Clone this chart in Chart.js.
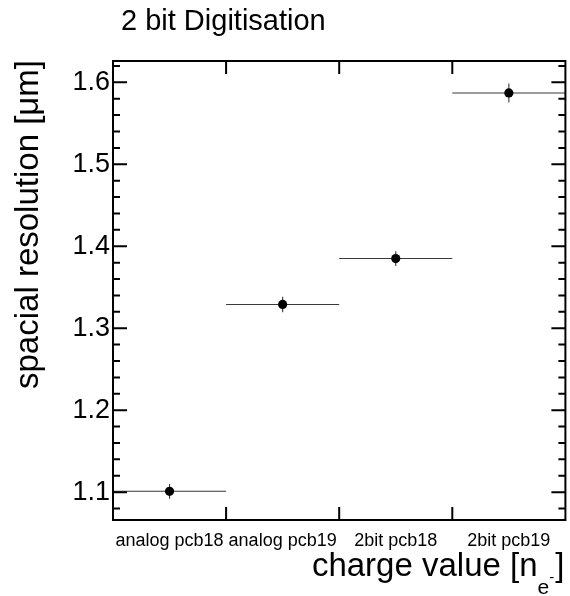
<!DOCTYPE html>
<html>
<head>
<meta charset="utf-8">
<script src="https://cdn.jsdelivr.net/npm/chart.js@4/dist/chart.umd.min.js"></script>
<style>
  html, body { margin: 0; padding: 0; background: #fff; }
  #plot { display: block; }
</style>
</head>
<body>
<canvas id="plot" width="570" height="596"></canvas>
<script>
// Measured spatial resolution per configuration, with its uncertainty
const categories = ['analog pcb18', 'analog pcb19', '2bit pcb18', '2bit pcb19'];
const resolution = [1.101, 1.329, 1.385, 1.587];
const resolutionErr = [0.009, 0.0095, 0.009, 0.0115];
const yTickValues = [1.1, 1.2, 1.3, 1.4, 1.5, 1.6];
const yTickLabels = ['1.1', '1.2', '1.3', '1.4', '1.5', '1.6'];

const FONT = "'Liberation Sans', Arial, Helvetica, sans-serif";
const Y_MIN = 1.066, Y_MAX = 1.626, Y_MINOR_STEP = 0.02;

// Error bars: horizontal span covers the full bin, vertical shows the uncertainty
const errorBars = {
  id: 'errorBars',
  beforeDatasetsDraw(chart) {
    const { ctx, scales: { x, y } } = chart;
    ctx.save();
    ctx.strokeStyle = '#3a3a3a';
    ctx.lineWidth = 1.1;
    resolution.forEach((v, i) => {
      const py = y.getPixelForValue(v);
      const px = x.getPixelForValue(i);
      ctx.beginPath();
      ctx.moveTo(x.getPixelForValue(i - 0.5), py);
      ctx.lineTo(x.getPixelForValue(i + 0.5), py);
      ctx.moveTo(px, y.getPixelForValue(v - resolutionErr[i]));
      ctx.lineTo(px, y.getPixelForValue(v + resolutionErr[i]));
      ctx.stroke();
    });
    ctx.restore();
  }
};

// Box frame with inward ticks on all four sides, plus titles
const frame = {
  id: 'frame',
  afterDraw(chart) {
    const { ctx, chartArea: a, scales: { x, y } } = chart;
    ctx.save();
    ctx.strokeStyle = '#000';
    ctx.lineWidth = 2;
    ctx.strokeRect(a.left, a.top, a.right - a.left, a.bottom - a.top);

    ctx.beginPath();
    // y ticks (major every 0.1, minor every 0.02)
    const kStart = Math.ceil(Y_MIN / Y_MINOR_STEP - 1e-9);
    const kEnd = Math.floor(Y_MAX / Y_MINOR_STEP + 1e-9);
    for (let k = kStart; k <= kEnd; k++) {
      const py = y.getPixelForValue(k * Y_MINOR_STEP);
      const len = (k % 5 === 0) ? 14 : 7;
      ctx.moveTo(a.left, py); ctx.lineTo(a.left + len, py);
      ctx.moveTo(a.right, py); ctx.lineTo(a.right - len, py);
    }
    // x ticks at bin edges
    for (let i = 1; i < categories.length; i++) {
      const px = x.getPixelForValue(i - 0.5);
      ctx.moveTo(px, a.bottom); ctx.lineTo(px, a.bottom - 13);
      ctx.moveTo(px, a.top); ctx.lineTo(px, a.top + 13);
    }
    ctx.stroke();

    ctx.fillStyle = '#000';
    // plot title
    ctx.font = '29px ' + FONT;
    ctx.textAlign = 'left';
    ctx.textBaseline = 'alphabetic';
    ctx.fillText('2 bit Digitisation', 121, 29.5);

    // y-axis title, aligned to the top of the frame
    ctx.save();
    ctx.translate(38, a.top - 1);
    ctx.rotate(-Math.PI / 2);
    ctx.font = '33px ' + FONT;
    ctx.textAlign = 'right';
    ctx.fillText('spacial resolution [\u03BCm]', 0, 0);
    ctx.restore();

    // x-axis title with subscript e and superscript minus
    const base = 576;
    let xr = a.right - 1;
    ctx.textAlign = 'left';
    ctx.font = '33px ' + FONT;
    const wBr = ctx.measureText(']').width;
    xr -= wBr;
    ctx.fillText(']', xr, base);
    ctx.font = '15px ' + FONT;
    const wMinus = ctx.measureText('-').width;
    xr -= wMinus + 1;
    ctx.fillText('-', xr, base + 6);
    ctx.font = '21px ' + FONT;
    const wE = ctx.measureText('e').width;
    xr -= wE;
    ctx.fillText('e', xr, base + 18);
    ctx.font = '33px ' + FONT;
    ctx.textAlign = 'right';
    ctx.fillText('charge value [n', xr, base);
    ctx.restore();
  }
};

new Chart(document.getElementById('plot'), {
  type: 'line',
  data: {
    labels: categories,
    datasets: [{
      data: resolution,
      showLine: false,
      pointRadius: 4.6,
      pointHoverRadius: 4.6,
      pointBackgroundColor: '#000',
      pointBorderColor: '#000',
      pointBorderWidth: 0
    }]
  },
  options: {
    responsive: false,
    animation: false,
    devicePixelRatio: 1,
    layout: { padding: { top: 61, right: 2, left: 0, bottom: 0 } },
    plugins: { legend: { display: false }, tooltip: { enabled: false }, title: { display: false } },
    scales: {
      x: {
        type: 'category',
        offset: true,
        grid: { display: false, drawTicks: false, offset: true },
        border: { display: false },
        ticks: {
          autoSkip: false, maxRotation: 0, minRotation: 0,
          color: '#000', padding: 10,
          font: { family: FONT, size: 18 }
        },
        afterFit(s) { s.height = 76; }
      },
      y: {
        min: Y_MIN,
        max: Y_MAX,
        grid: { display: false, drawTicks: false },
        border: { display: false },
        afterBuildTicks(s) { s.ticks = yTickValues.map(v => ({ value: v })); },
        ticks: {
          color: '#000', padding: 3,
          font: { family: FONT, size: 27 },
          callback(v) { const i = yTickValues.findIndex(t => Math.abs(t - v) < 1e-9); return i >= 0 ? yTickLabels[i] : ''; }
        },
        afterFit(s) { s.width = 113; }
      }
    }
  },
  plugins: [errorBars, frame]
});
</script>
</body>
</html>
